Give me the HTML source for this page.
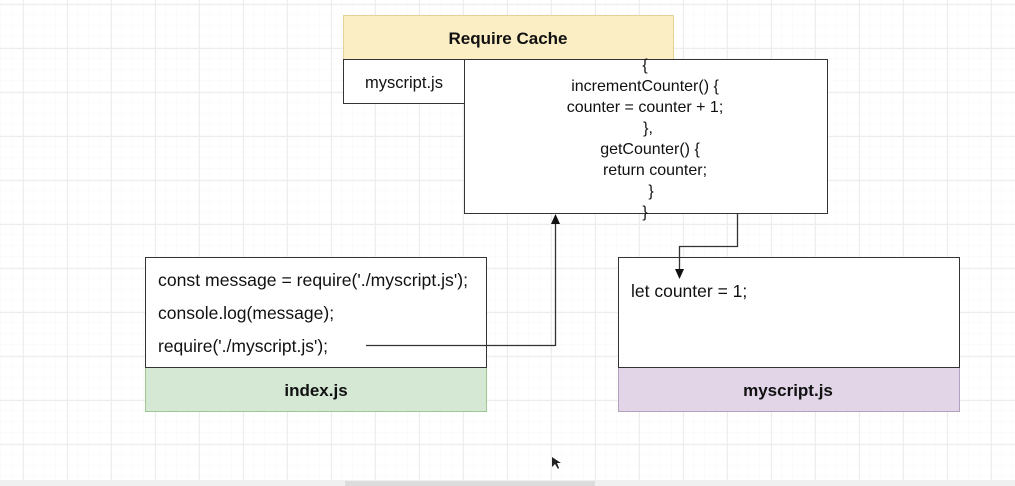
<!DOCTYPE html>
<html><head><meta charset="utf-8"><style>
html,body{margin:0;padding:0;width:1015px;height:486px;overflow:hidden;background:#fff}
svg{display:block}
text{font-family:"Liberation Sans",sans-serif;fill:#111}
</style></head><body>
<svg width="1015" height="486" viewBox="0 0 1015 486">
<defs>
<pattern id="minor" x="1" y="4" width="11" height="11" patternUnits="userSpaceOnUse"><path d="M11 0V11M0 11H11" stroke="#f7f7f7" stroke-width="1" fill="none"/></pattern>
<pattern id="major" x="23" y="4" width="44" height="44" patternUnits="userSpaceOnUse"><path d="M0.5 0V44M0 0.5H44" stroke="#ededed" stroke-width="1.2" fill="none"/></pattern>
</defs>
<rect width="1015" height="486" fill="url(#minor)"/>
<rect width="1015" height="486" fill="url(#major)"/>
<rect x="0" y="480" width="1015" height="6" fill="#f0f0f0"/>
<rect x="345" y="481" width="250" height="5" fill="#dcdcdc"/>

<rect x="343.5" y="15.5" width="330" height="44" fill="#fbeec4" stroke="#e2d39a"/>
<text x="508" y="44" font-size="17" font-weight="bold" text-anchor="middle">Require Cache</text>
<rect x="343.5" y="59.5" width="121" height="44" fill="#fff" stroke="#333"/>
<text x="404" y="88" font-size="16.5" text-anchor="middle">myscript.js</text>
<rect x="464.5" y="59.5" width="363" height="154" fill="#fff" stroke="#333"/>
<g font-size="16" text-anchor="middle">
<text x="645" y="70">{</text>
<text x="645" y="91">incrementCounter() {</text>
<text x="645" y="112">counter = counter + 1;</text>
<text x="648" y="133">},</text>
<text x="650" y="154">getCounter() {</text>
<text x="655" y="175">return counter;</text>
<text x="651" y="196">}</text>
<text x="645" y="217">}</text>
</g>

<rect x="145.5" y="257.5" width="341" height="110" fill="#fff" stroke="#333"/>
<rect x="145.5" y="367.5" width="341" height="44" fill="#d5e8d4" stroke="#9fc593"/>
<line x1="145" y1="367.5" x2="487" y2="367.5" stroke="#333"/>
<g font-size="17.5">
<text x="158" y="286" textLength="310" lengthAdjust="spacingAndGlyphs">const message = require('./myscript.js');</text>
<text x="158" y="319">console.log(message);</text>
<text x="158" y="352">require('./myscript.js');</text>
</g>
<text x="316" y="396" font-size="17" font-weight="bold" text-anchor="middle">index.js</text>

<rect x="618.5" y="257.5" width="341" height="110" fill="#fff" stroke="#333"/>
<rect x="618.5" y="367.5" width="341" height="44" fill="#e1d5e7" stroke="#b3a0bf"/>
<line x1="618" y1="367.5" x2="960" y2="367.5" stroke="#333"/>
<text x="631" y="297" font-size="17.5">let counter = 1;</text>
<text x="788" y="396" font-size="17" font-weight="bold" text-anchor="middle">myscript.js</text>

<polyline points="366,345.5 555.5,345.5 555.5,222" fill="none" stroke="#333" stroke-width="1.3"/>
<polygon points="555.5,214 551,224 560,224" fill="#111"/>
<polyline points="737.5,214 737.5,246.5 679.5,246.5 679.5,270" fill="none" stroke="#333" stroke-width="1.3"/>
<polygon points="679.5,279 675,269 684,269" fill="#111"/>

<polygon points="552,457 552,467 555,464 558,469 559,468 557,463 561,463" fill="#222"/>
</svg>
</body></html>
